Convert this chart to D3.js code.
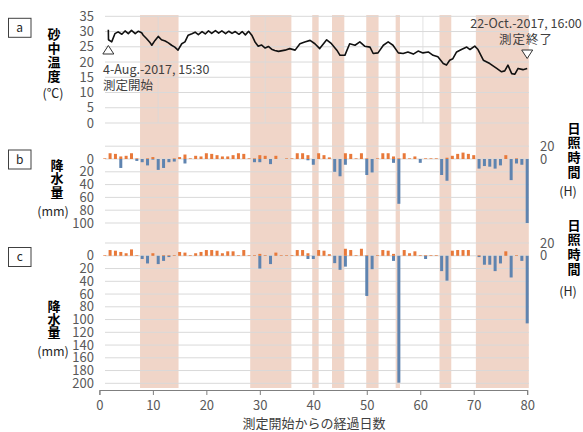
<!DOCTYPE html>
<html>
  <head>
    <meta charset="utf-8">
    <style>
      body {
        margin: 0;
        background: #fff;
      }
      text {
        font-family: "Noto Sans CJK JP", "Noto Sans", sans-serif;
      }
      .tick-label {
        font-size: 13px;
        fill: #595959;
      }
      .title {
        font-size: 13px;
        font-weight: bold;
        fill: #000;
      }
      .unit {
        font-size: 12.5px;
        fill: #262626;
      }
      .note {
        font-size: 12.5px;
        fill: #404040;
      }
    </style>
  </head>
  <body>
    <script src="https://cdn.jsdelivr.net/npm/d3@7"></script>
    <script>
      // x axis (elapsed days)
      const dayTicks = [0, 10, 20, 30, 40, 50, 60, 70, 80];
      const days = d3.range(1, 81);

      // shaded periods (start / end, in elapsed days)
      const shadeStart = [7.6, 28.2, 39.8, 43.5, 49.9, 55.4, 63.6, 70.4];
      const shadeEnd   = [14.8, 35.9, 41.0, 45.8, 52.2, 56.2, 65.8, 80.3];

      // faint vertical lines in panel a
      const tempMarks = [11, 31, 60.5];

      // panel a: sand temperature [day, °C]
      const temperature = [
        [1.67, 30.6], [1.7, 27.3], [2.3, 26.6], [2.9, 29.3], [3.5, 29.9], [4.2, 29.1],
        [4.8, 30.2], [5.4, 29.3], [6.0, 30.4], [6.7, 29.3], [7.3, 30.1], [7.9, 29.6],
        [8.2, 28.8], [8.8, 27.7], [9.5, 26.3], [9.8, 25.5], [10.4, 27.1], [11.0, 28.4],
        [11.6, 27.3], [12.3, 26.9], [12.9, 26.3], [13.5, 25.5], [14.1, 24.9], [14.7, 23.9],
        [15.4, 26.0], [16.0, 26.6], [16.6, 28.8], [17.3, 29.3], [17.9, 29.8], [18.5, 29.0],
        [19.2, 30.0], [19.8, 29.2], [20.4, 30.2], [21.0, 29.4], [21.7, 30.3], [22.3, 29.5],
        [22.9, 30.2], [23.6, 29.3], [24.2, 30.1], [24.8, 29.4], [25.4, 30.0], [26.1, 29.1],
        [26.7, 30.0], [27.3, 28.9], [27.9, 30.1], [28.5, 28.8], [29.1, 26.6], [29.7, 25.2],
        [30.3, 25.6], [31.0, 24.6], [31.6, 25.1], [32.2, 24.2], [32.8, 23.8], [33.5, 23.5],
        [34.7, 23.9], [35.6, 24.4], [36.6, 23.9], [37.5, 26.0], [38.4, 26.6], [39.4, 27.1],
        [40.3, 26.0], [41.2, 24.4], [42.5, 27.3], [43.4, 26.0], [44.4, 23.9], [45.0, 22.2],
        [45.9, 22.2], [46.8, 26.0], [47.8, 25.5], [48.7, 26.6], [49.6, 25.2], [50.6, 24.9],
        [51.2, 22.8], [52.1, 23.0], [53.1, 25.5], [54.0, 26.6], [54.9, 25.5], [55.9, 23.0],
        [56.8, 22.8], [57.7, 23.3], [58.7, 22.6], [59.6, 23.6], [60.5, 23.0], [61.5, 23.3],
        [62.4, 22.2], [63.3, 21.7], [64.3, 19.5], [64.9, 19.0], [65.5, 20.6], [66.1, 21.1],
        [66.8, 23.3], [67.7, 24.1], [68.7, 24.9], [69.3, 24.1], [70.2, 25.2], [70.8, 24.1],
        [71.8, 20.6], [73.0, 19.5], [74.3, 17.9], [75.2, 16.8], [75.8, 17.1], [76.4, 19.0],
        [77.1, 16.2], [77.7, 16.0], [78.3, 17.9], [79.2, 17.5], [80.0, 17.9]
      ];
      const tempTicks = [0, 5, 10, 15, 20, 25, 30, 35];

      // panel b: sunshine hours (up) and rainfall mm (down), days 1..80
      const sunB = [1, 9, 8, 4, 5, 9, 1, 0, 1, 3, 0, 0, 0, 1, 3, 7, 1, 5, 4, 9,
                    8, 6, 4, 4, 6, 9, 8, 1, 1, 6, 5, 0, 5, 0, 1, 1, 9, 9, 6, 0,
                    9, 6, 2.5, 0, 0, 9, 8, 1, 9, 1, 0, 1, 9, 9, 4, 1, 9, 1, 4, 0,
                    1, 1, 1, 0, 2, 5, 8, 10, 8, 6, 0, 0, 0, 0, 0, 6, 0, 1, 0, 0];
      const rainB = [0, 0, 0, 14, 0, 0, 3, 5, 10, 1, 17, 14, 5, 4, 0, 7, 0, 0, 0, 0,
                     0, 0, 0, 0, 0, 0, 0, 0, 5, 5, 0, 8, 0, 0, 0, 0, 0, 0, 2, 9,
                     0, 0, 0, 20, 27, 9, 0, 0, 0, 25, 21, 0, 0, 0, 6, 70, 0, 0, 0, 6,
                     0, 0, 0, 25, 34, 0, 0, 0, 0, 0, 15, 11, 12, 15, 10, 0, 33, 7, 9, 100];
      const rainTicksB = [0, 20, 40, 60, 80, 100];

      // panel c
      const sunC = [1, 9, 8, 6, 4, 10, 1, 0, 0, 4, 0, 1, 1, 1, 6, 5, 1, 4, 6, 9,
                    9, 8, 4, 7, 7, 1, 9, 1, 1, 3, 1, 0, 5, 1, 1, 1, 9, 9, 4, 0,
                    9, 8, 2.5, 0, 0, 11, 9, 1, 11, 1, 0, 1, 9, 8, 3, 0, 9, 4, 7, 1,
                    1, 1, 1, 0, 0, 8, 9, 9, 9, 0, 1, 0, 0, 0, 0, 7, 0, 1, 0, 0];
      const rainC = [0, 0, 0, 0, 0, 0, 0, 5, 12, 0, 13, 8, 2, 0, 0, 0, 0, 0, 0, 0,
                     0, 0, 0, 0, 0, 0, 0, 0, 0, 20, 0, 13, 0, 0, 0, 0, 0, 0, 5, 5,
                     0, 0, 0, 11.5, 22, 17, 0, 0, 0, 63, 21, 0, 0, 0, 8, 199, 0, 0, 0, 0,
                     5, 0, 0, 24, 39, 0, 0, 0, 0, 0, 2, 14, 14, 24, 12, 0, 34, 0, 8, 106];
      const rainTicksC = [0, 20, 40, 60, 80, 100, 120, 140, 160, 180, 200];
      const sunTicks = [0, 20];

      const orange = "#e8793a",
          blue = "#5f84b0",
          shade = "#f0d5c8",
          grid = "#d9d9d9";

      const svg = d3.select("body").append("svg")
          .attr("width", 583)
          .attr("height", 432);

      const x = d3.scaleLinear().domain([0, 80]).range([99.4, 527.2]);
      const gridLeft = 105, gridRight = 529;

      // shaded periods across all panels
      svg.append("g").selectAll("rect")
          .data(d3.zip(shadeStart, shadeEnd))
        .enter().append("rect")
          .attr("x", d => x(d[0]))
          .attr("width", d => x(d[1]) - x(d[0]))
          .attr("y", 15)
          .attr("height", 373)
          .attr("fill", shade);

      // ---- panel a ----
      const yTemp = d3.scaleLinear().domain([0, 35]).range([123, 16.3]);
      const ga = svg.append("g");

      ga.selectAll(".grid")
          .data(tempTicks)
        .enter().append("line")
          .attr("x1", gridLeft).attr("x2", gridRight)
          .attr("y1", d => yTemp(d)).attr("y2", d => yTemp(d))
          .attr("stroke", grid);

      ga.selectAll(".vmark")
          .data(tempMarks)
        .enter().append("line")
          .attr("x1", d => x(d)).attr("x2", d => x(d))
          .attr("y1", yTemp(35)).attr("y2", yTemp(0))
          .attr("stroke", grid)
          .attr("stroke-opacity", 0.8);

      ga.selectAll(".tick-label")
          .data(tempTicks)
        .enter().append("text")
          .attr("class", "tick-label")
          .attr("x", 94)
          .attr("y", d => yTemp(d))
          .attr("dy", "0.35em")
          .attr("text-anchor", "end")
          .text(d => d);

      ga.append("path")
          .datum(temperature)
          .attr("fill", "none")
          .attr("stroke", "#111")
          .attr("stroke-width", 1.6)
          .attr("stroke-linejoin", "round")
          .attr("d", d3.line().x(d => x(d[0])).y(d => yTemp(d[1])));

      const first = temperature[0], last = temperature[temperature.length - 1];
      ga.append("path")
          .attr("d", `M${x(first[0]) - 5.5},54 L${x(first[0]) + 5.5},54 L${x(first[0])},45.5 Z`)
          .attr("fill", "#fff").attr("stroke", "#333");
      ga.append("path")
          .attr("d", `M${x(last[0]) - 5.5},50 L${x(last[0]) + 5.5},50 L${x(last[0])},58.5 Z`)
          .attr("fill", "#fff").attr("stroke", "#333");

      ga.append("text").attr("class", "note")
          .attr("x", 103).attr("y", 74).text("4-Aug.-2017, 15:30");
      ga.append("text").attr("class", "note")
          .attr("x", 103).attr("y", 90).text("測定開始");
      ga.append("text").attr("class", "note")
          .attr("x", 526).attr("y", 28).attr("text-anchor", "middle").text("22-Oct.-2017, 16:00");
      ga.append("text").attr("class", "note")
          .attr("x", 526).attr("y", 44).attr("text-anchor", "middle")
          .attr("letter-spacing", "1px").text("測定終了");

      // ---- bar panels ----
      const panels = [
        {sun: sunB, rain: rainB, rainTicks: rainTicksB,
         ySun: d3.scaleLinear().domain([0, 20]).range([159, 146.2]),
         yRain: d3.scaleLinear().domain([0, 100]).range([159, 223])},
        {sun: sunC, rain: rainC, rainTicks: rainTicksC,
         ySun: d3.scaleLinear().domain([0, 20]).range([255.8, 243]),
         yRain: d3.scaleLinear().domain([0, 200]).range([255.8, 383.3])}
      ];

      const barW = 3;
      panels.forEach(p => {
        const g = svg.append("g");

        const gridYs = p.rainTicks.map(p.yRain).concat([p.ySun(20)]);
        g.selectAll(".grid")
            .data(gridYs)
          .enter().append("line")
            .attr("x1", gridLeft).attr("x2", gridRight)
            .attr("y1", d => d).attr("y2", d => d)
            .attr("stroke", grid);

        g.selectAll(".rain")
            .data(days)
          .enter().append("rect")
            .attr("x", d => x(d) - barW / 2)
            .attr("width", barW)
            .attr("y", p.yRain(0))
            .attr("height", (d, i) => p.yRain(p.rain[i]) - p.yRain(0))
            .attr("fill", blue);

        g.selectAll(".sun")
            .data(days)
          .enter().append("rect")
            .attr("x", d => x(d) - barW / 2)
            .attr("width", barW)
            .attr("y", (d, i) => p.ySun(p.sun[i]))
            .attr("height", (d, i) => p.ySun(0) - p.ySun(p.sun[i]))
            .attr("fill", orange);

        g.selectAll(".rain-label")
            .data(p.rainTicks)
          .enter().append("text")
            .attr("class", "tick-label")
            .attr("x", 94)
            .attr("y", d => p.yRain(d))
            .attr("dy", "0.35em")
            .attr("text-anchor", "end")
            .text(d => d);

        g.selectAll(".sun-label")
            .data(sunTicks)
          .enter().append("text")
            .attr("class", "tick-label")
            .attr("x", 540)
            .attr("y", d => p.ySun(d))
            .attr("dy", "0.35em")
            .text(d => d);
      });

      // ---- x axis ----
      const xAxis = svg.append("g")
          .attr("transform", "translate(0,390)")
          .call(d3.axisBottom(x).tickValues(dayTicks).tickSize(5).tickPadding(6));
      xAxis.select(".domain").attr("stroke", "#7f7f7f");
      xAxis.selectAll(".tick line").attr("stroke", "#7f7f7f");
      xAxis.selectAll(".tick text")
          .attr("class", "tick-label")
          .attr("font-family", null)
          .attr("font-size", null)
          .attr("fill", null);

      svg.append("text")
          .attr("x", 314).attr("y", 428)
          .attr("text-anchor", "middle")
          .attr("font-size", 13).attr("fill", "#404040")
          .text("測定開始からの経過日数");

      // ---- titles ----
      function vertical(chars, cx, top, step, cls) {
        svg.append("g").selectAll("text")
            .data(chars.split(""))
          .enter().append("text")
            .attr("class", cls)
            .attr("x", cx)
            .attr("y", (d, i) => top + i * step)
            .attr("dy", "0.35em")
            .attr("text-anchor", "middle")
            .text(d => d);
      }
      vertical("砂中温度", 54, 34, 14, "title");
      vertical("降水量", 57, 165, 13.5, "title");
      vertical("降水量", 54, 306, 13.2, "title");
      vertical("日照時間", 574, 128, 14.7, "title");
      vertical("日照時間", 574, 225, 14.7, "title");

      const units = [["(℃)", 53, 94], ["(mm)", 53, 212], ["(mm)", 53, 352], ["(H)", 568, 192], ["(H)", 568, 292]];
      svg.append("g").selectAll("text")
          .data(units)
        .enter().append("text")
          .attr("class", "unit")
          .attr("x", d => d[1]).attr("y", d => d[2])
          .attr("dy", "0.35em")
          .attr("text-anchor", "middle")
          .text(d => d[0]);

      // panel letters
      const letters = [["a", 18.3], ["b", 150], ["c", 247.5]];
      const lg = svg.append("g").selectAll("g")
          .data(letters)
        .enter().append("g");
      lg.append("rect")
          .attr("x", 8.5).attr("y", d => d[1])
          .attr("width", 22.5).attr("height", 19)
          .attr("fill", "#fff").attr("stroke", "#404040");
      lg.append("text")
          .attr("x", 19.7).attr("y", d => d[1] + 9.5)
          .attr("dy", "0.35em")
          .attr("text-anchor", "middle")
          .attr("font-size", 12).attr("fill", "#262626")
          .text(d => d[0]);
    </script>
  </body>
</html>
